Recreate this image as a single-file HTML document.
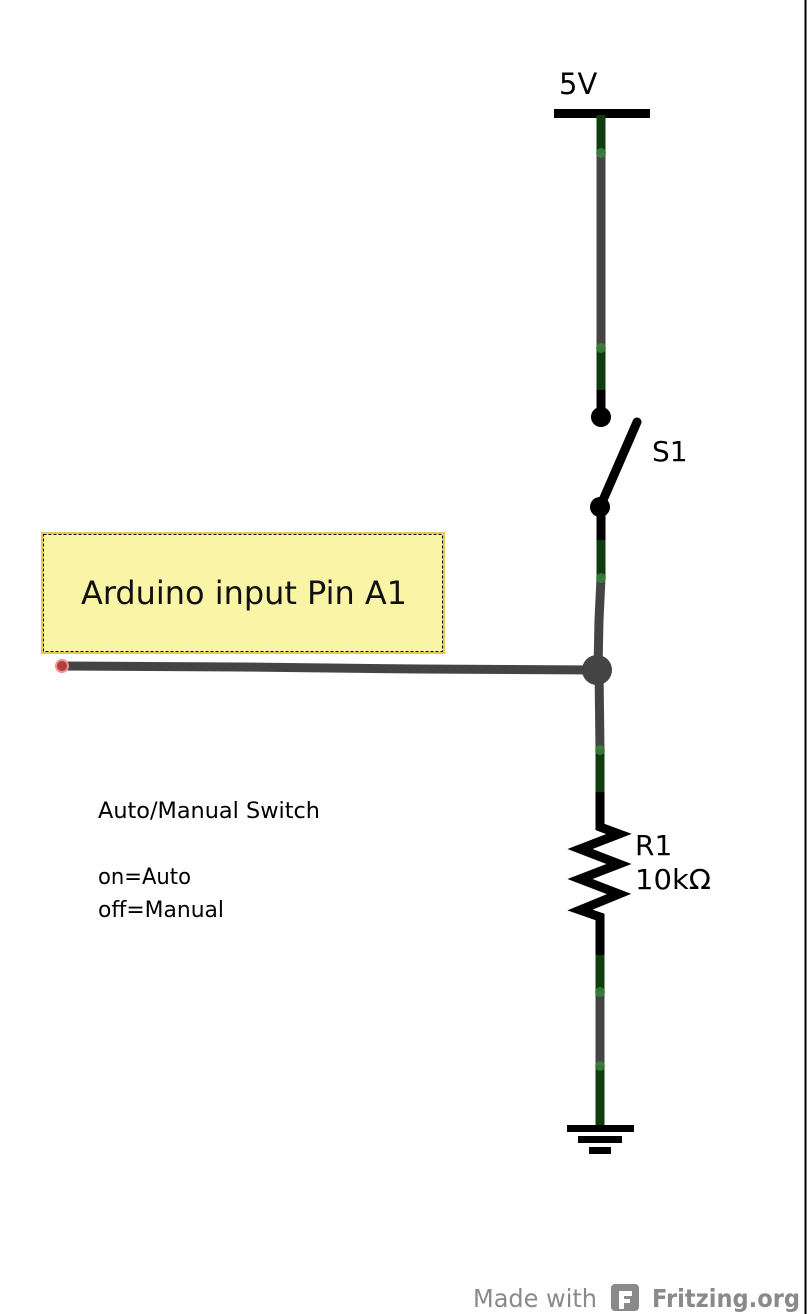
<!DOCTYPE html>
<html><head><style>
body{margin:0;background:#fff;width:807px;height:1314px;overflow:hidden;position:relative;font-family:"DejaVu Sans","Liberation Sans",sans-serif}
</style></head><body>
<svg width="807" height="1314" style="position:absolute;left:0;top:0">
<line x1="805.5" y1="0" x2="805.5" y2="1314" stroke="#000" stroke-width="2"/>
<text x="559" y="94" font-size="29" fill="#000" font-family="DejaVu Sans, sans-serif">5V</text>
<rect x="554" y="109" width="96" height="9" fill="#000"/>
<g stroke-width="9" fill="none">
<line x1="601" y1="115" x2="601" y2="153" stroke="#0f3b0f"/>
<line x1="601" y1="153" x2="601" y2="348" stroke="#444"/>
<line x1="601" y1="348" x2="601" y2="390" stroke="#0f3b0f"/>
<line x1="601" y1="390" x2="601" y2="417" stroke="#000"/>
<line x1="600" y1="507" x2="637" y2="422" stroke="#000" stroke-linecap="round"/>
<line x1="601" y1="507" x2="601" y2="540" stroke="#000"/>
<line x1="601" y1="540" x2="601" y2="578" stroke="#0f3b0f"/>
<polyline points="601,578 599,620 598,670" stroke="#444"/>
<polyline points="62,666 240,667 420,669 597,670" stroke="#444"/>
<line x1="599" y1="670" x2="600" y2="750" stroke="#444"/>
<line x1="600" y1="750" x2="600" y2="792" stroke="#0f3b0f"/>
<polyline points="600,792 600,827 619,834 580,849 619,864 580,879 619,894 580,910 600,917 600,955" stroke="#000" stroke-linejoin="miter"/>
<line x1="600" y1="955" x2="600" y2="992" stroke="#0f3b0f"/>
<line x1="600" y1="992" x2="600" y2="1066" stroke="#444"/>
<line x1="600" y1="1066" x2="600" y2="1128" stroke="#0f3b0f"/>
</g>
<circle cx="601" cy="417" r="10" fill="#000"/>
<circle cx="600" cy="507" r="10" fill="#000"/>
<circle cx="597" cy="670" r="15" fill="#444"/>
<g fill="#3c8a3c" opacity="0.8">
<circle cx="601" cy="153" r="5"/><circle cx="601" cy="348" r="5"/><circle cx="601" cy="578" r="5"/>
<circle cx="600" cy="750" r="5"/><circle cx="600" cy="992" r="5"/><circle cx="600" cy="1066" r="5"/>
</g>
<circle cx="62" cy="666" r="6" fill="#b04040" stroke="#f09090" stroke-width="2"/>
<rect x="567" y="1125" width="67" height="7" fill="#000"/>
<rect x="578" y="1136" width="44" height="7" fill="#000"/>
<rect x="589" y="1147" width="22" height="7" fill="#000"/>
<text x="652" y="461" font-size="28" fill="#000">S1</text>
<text x="635" y="855" font-size="28" fill="#000">R1</text>
<text x="635" y="889" font-size="28" fill="#000" textLength="76" lengthAdjust="spacingAndGlyphs">10kΩ</text>
<rect x="42" y="533" width="402" height="120" fill="#faf5a6" stroke="#e8c850" stroke-width="2"/>
<rect x="43.5" y="534.5" width="399" height="117" fill="none" stroke="#000" stroke-width="1" stroke-dasharray="3,2"/>
<text x="81" y="604" font-size="32" fill="#111" textLength="326" lengthAdjust="spacingAndGlyphs">Arduino input Pin A1</text>
<text x="98" y="818" font-size="22" fill="#000" textLength="222" lengthAdjust="spacingAndGlyphs">Auto/Manual Switch</text>
<text x="98" y="884" font-size="22" fill="#000" textLength="93" lengthAdjust="spacingAndGlyphs">on=Auto</text>
<text x="98" y="917" font-size="22" fill="#000" textLength="126" lengthAdjust="spacingAndGlyphs">off=Manual</text>
<text x="473" y="1307" font-size="25" fill="#8a8a8a" textLength="124" lengthAdjust="spacingAndGlyphs">Made with</text>
<rect x="611" y="1284" width="28" height="27" rx="4" fill="#8a8a8a"/>
<path d="M619,1291 h13 v5 h-8 v3 h6 v4 h-6 v6 h-5z" fill="#fff"/>
<text x="652" y="1307" font-size="25" font-weight="bold" fill="#8a8a8a" textLength="148" lengthAdjust="spacingAndGlyphs">Fritzing.org</text>
</svg>
</body></html>
